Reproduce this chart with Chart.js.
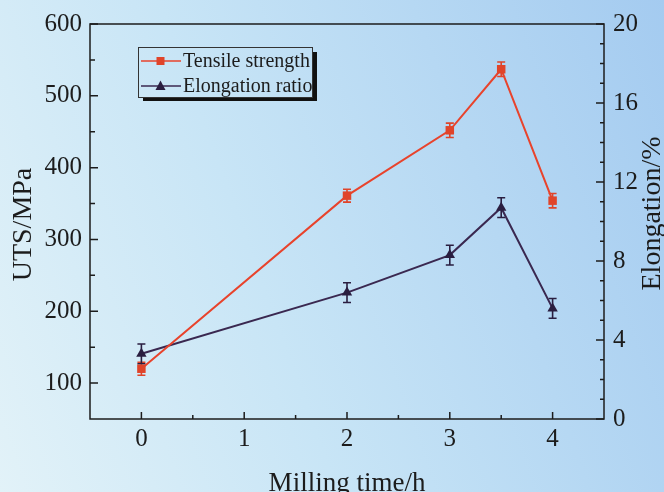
<!DOCTYPE html>
<html>
<head>
<meta charset="utf-8">
<script src="https://cdn.jsdelivr.net/npm/chart.js@4"></script>
<style>
html, body { margin: 0; padding: 0; }
body {
    width: 664px; height: 492px; overflow: hidden;
    background: linear-gradient(70deg, #e2f2f8 0%, #c8e5f6 40%, #a4cbf0 100%);
}
canvas { display: block; }
</style>
</head>
<body>
<canvas id="chart" width="664" height="492"></canvas>
<script>
const millingTime = [0, 2, 3, 3.5, 4];
const tensileStrength = [120, 361, 452, 537, 354];
const tensileError = [9, 9, 10, 10, 10];
const elongation = [3.3, 6.4, 8.3, 10.7, 5.6];
const elongationError = [0.5, 0.5, 0.5, 0.5, 0.5];

const xTicks = [0, 1, 2, 3, 4];
const xMinorTicks = [0.5, 1.5, 2.5, 3.5];
const utsTicks = [100, 200, 300, 400, 500, 600];
const utsMinorTicks = [150, 250, 350, 450, 550];
const elongTicks = [0, 4, 8, 12, 16, 20];
const elongMinorTicks = [1, 2, 3, 5, 6, 7, 9, 10, 11, 13, 14, 15, 17, 18, 19];

const serif = '"Liberation Serif", "DejaVu Serif", serif';
const ink = '#1c1c1c';
const redLine = '#e8432c';
const redMark = '#e0442a';
const purpleLine = '#3a2850';
const purpleMark = '#2a1e40';

const ctx = document.getElementById("chart").getContext("2d");

// barres d'erreur + cadre + ticks intérieurs + titres + légende
const extras = {
    id: 'extras',
    beforeDatasetsDraw(chart) {
        const c = chart.ctx;
        const x = chart.scales.x;
        const sets = [
            { scale: chart.scales.y, vals: tensileStrength, err: tensileError, color: redMark },
            { scale: chart.scales.y1, vals: elongation, err: elongationError, color: purpleMark }
        ];
        c.save();
        c.lineWidth = 1.6;
        sets.forEach(s => {
            c.strokeStyle = s.color;
            millingTime.forEach((t, i) => {
                const px = x.getPixelForValue(t);
                const top = s.scale.getPixelForValue(s.vals[i] + s.err[i]);
                const bot = s.scale.getPixelForValue(s.vals[i] - s.err[i]);
                c.beginPath();
                c.moveTo(px, top); c.lineTo(px, bot);
                c.moveTo(px - 4, top); c.lineTo(px + 4, top);
                c.moveTo(px - 4, bot); c.lineTo(px + 4, bot);
                c.stroke();
            });
        });
        c.restore();
    },
    afterDraw(chart) {
        const c = chart.ctx;
        const a = chart.chartArea;
        const { x, y, y1 } = chart.scales;
        c.save();
        c.strokeStyle = ink;
        c.lineWidth = 1.5;
        c.strokeRect(a.left, a.top, a.right - a.left, a.bottom - a.top);

        c.beginPath();
        xTicks.forEach(v => { const p = x.getPixelForValue(v); c.moveTo(p, a.bottom); c.lineTo(p, a.bottom - 7); });
        xMinorTicks.forEach(v => { const p = x.getPixelForValue(v); c.moveTo(p, a.bottom); c.lineTo(p, a.bottom - 4); });
        utsTicks.forEach(v => { const p = y.getPixelForValue(v); c.moveTo(a.left, p); c.lineTo(a.left + 8, p); });
        utsMinorTicks.forEach(v => { const p = y.getPixelForValue(v); c.moveTo(a.left, p); c.lineTo(a.left + 5, p); });
        elongTicks.forEach(v => { const p = y1.getPixelForValue(v); c.moveTo(a.right, p); c.lineTo(a.right - 8, p); });
        elongMinorTicks.forEach(v => { const p = y1.getPixelForValue(v); c.moveTo(a.right, p); c.lineTo(a.right - 4, p); });
        c.stroke();

        // titres d'axes
        c.fillStyle = ink;
        c.textAlign = 'center';
        c.textBaseline = 'alphabetic';
        c.font = '28px ' + serif;
        c.save(); c.translate(31, (a.top + a.bottom) / 2 + 3); c.rotate(-Math.PI / 2);
        c.fillText('UTS/MPa', 0, 0); c.restore();
        c.save(); c.translate(660, (a.top + a.bottom) / 2 - 8); c.rotate(-Math.PI / 2);
        c.fillText('Elongation/%', 0, 0); c.restore();
        c.font = '27px ' + serif;
        c.fillText('Milling time/h', (a.left + a.right) / 2, 491);

        // légende
        const lx = 138, ly = 47, lw = 174, lh = 50;
        c.fillStyle = '#111';
        c.fillRect(lx + lw, ly + 5, 5, lh - 1);
        c.fillRect(lx + 5, ly + lh, lw, 4);
        c.strokeStyle = '#333';
        c.lineWidth = 1;
        c.strokeRect(lx + 0.5, ly + 0.5, lw, lh);

        const rows = [
            { label: 'Tensile strength', line: redLine, mark: redMark, shape: 'rect', y: 61 },
            { label: 'Elongation ratio', line: purpleLine, mark: purpleMark, shape: 'tri', y: 86 }
        ];
        c.font = '20px ' + serif;
        c.textAlign = 'left';
        c.textBaseline = 'middle';
        rows.forEach(r => {
            c.strokeStyle = r.line;
            c.lineWidth = 1.5;
            c.beginPath(); c.moveTo(141, r.y); c.lineTo(181, r.y); c.stroke();
            c.fillStyle = r.mark;
            if (r.shape === 'rect') {
                c.fillRect(156.5, r.y - 4, 8, 8);
            } else {
                c.beginPath(); c.moveTo(160.5, r.y - 5.5); c.lineTo(165.5, r.y + 4); c.lineTo(155.5, r.y + 4); c.closePath(); c.fill();
            }
            c.fillStyle = ink;
            c.fillText(r.label, 183, r.y + 1);
        });
        c.restore();
    }
};

const tickFont = { family: serif, size: 25 };

const chart = new Chart(ctx, {
    type: 'line',
    data: {
        datasets: [
            {
                label: 'Tensile strength',
                data: millingTime.map((t, i) => ({ x: t, y: tensileStrength[i] })),
                yAxisID: 'y',
                borderColor: redLine,
                borderWidth: 2,
                pointStyle: 'rect',
                pointRadius: 6,
                pointBorderWidth: 0,
                pointBackgroundColor: redMark,
                tension: 0,
                fill: false
            },
            {
                label: 'Elongation ratio',
                data: millingTime.map((t, i) => ({ x: t, y: elongation[i] })),
                yAxisID: 'y1',
                borderColor: purpleLine,
                borderWidth: 2,
                pointStyle: 'triangle',
                pointRadius: 6,
                pointBorderWidth: 0,
                pointBackgroundColor: purpleMark,
                tension: 0,
                fill: false
            }
        ]
    },
    options: {
        responsive: false,
        animation: false,
        layout: { padding: { top: 17, left: 0, right: 0, bottom: 0 } },
        plugins: { legend: { display: false }, tooltip: { enabled: false } },
        scales: {
            x: {
                type: 'linear',
                min: -0.5, max: 4.5,
                grid: { display: false, drawTicks: false },
                border: { display: false },
                afterBuildTicks: s => { s.ticks = xTicks.map(v => ({ value: v })); },
                afterFit: s => { s.height = 73; },
                ticks: { font: tickFont, color: ink, padding: 5, maxRotation: 0 }
            },
            y: {
                position: 'left',
                min: 50, max: 600,
                grid: { display: false, drawTicks: false },
                border: { display: false },
                afterBuildTicks: s => { s.ticks = utsTicks.map(v => ({ value: v })); },
                afterFit: s => { s.width = 90; },
                ticks: { font: tickFont, color: ink, padding: 8 }
            },
            y1: {
                position: 'right',
                min: 0, max: 20,
                grid: { display: false, drawTicks: false },
                border: { display: false },
                afterBuildTicks: s => { s.ticks = elongTicks.map(v => ({ value: v })); },
                afterFit: s => { s.width = 60; },
                ticks: { font: tickFont, color: ink, padding: 9 }
            }
        }
    },
    plugins: [extras]
});
</script>
</body>
</html>
